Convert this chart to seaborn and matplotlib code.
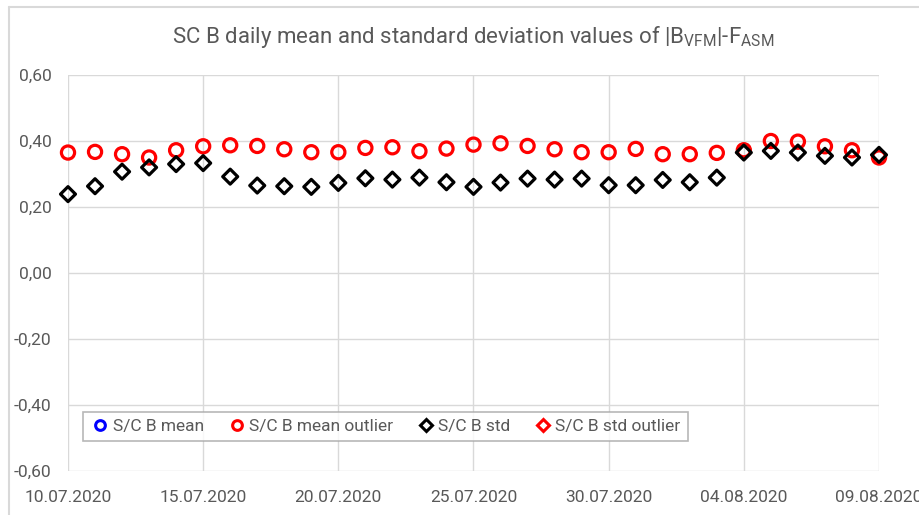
import matplotlib
matplotlib.use("Agg")
import matplotlib.pyplot as plt
import matplotlib.dates as mdates
from matplotlib.lines import Line2D
from matplotlib.ticker import FuncFormatter, FixedLocator
import seaborn as sns
import pandas as pd
import numpy as np

# ---- data ----
dates = pd.date_range("2020-07-10", "2020-08-09", freq="D")
mean_values = [0.365, 0.367, 0.360, 0.350, 0.372, 0.384, 0.387, 0.385, 0.375, 0.366,
               0.366, 0.379, 0.381, 0.369, 0.377, 0.389, 0.393, 0.385, 0.375, 0.366,
               0.366, 0.376, 0.360, 0.360, 0.364, 0.372, 0.400, 0.398, 0.384, 0.372,
               0.350]
mean_outlier = [True] * 31
std_values = [0.239, 0.263, 0.307, 0.320, 0.330, 0.333, 0.292, 0.265, 0.263, 0.261,
              0.273, 0.287, 0.283, 0.289, 0.275, 0.261, 0.274, 0.286, 0.283, 0.286,
              0.266, 0.266, 0.282, 0.275, 0.289, 0.365, 0.370, 0.365, 0.355, 0.350,
              0.358]
std_outlier = [False] * 31
series_labels = ["S/C B mean", "S/C B mean outlier", "S/C B std", "S/C B std outlier"]
x_tick_dates = ["2020-07-10", "2020-07-15", "2020-07-20", "2020-07-25",
                "2020-07-30", "2020-08-04", "2020-08-09"]
y_ticks = [-0.60, -0.40, -0.20, 0.00, 0.20, 0.40, 0.60]
title = r"SC B daily mean and standard deviation values of |B$_\mathregular{VFM}$|-F$_\mathregular{ASM}$"

df = pd.DataFrame({"date": dates, "mean": mean_values, "mean_out": mean_outlier,
                   "std": std_values, "std_out": std_outlier})

sns.set_theme(style="white")
FONT = ["Roboto", "DejaVu Sans"]
plt.rcParams["font.family"] = FONT
TXT = "#595959"
GRID = "#d9d9d9"

fig = plt.figure(figsize=(9.19, 5.15), dpi=100)
ax = fig.add_axes([68/919, 1-471/515, (879-68)/919, (471-75)/515])

lw = 2.3
styles = [
    (df[~df["mean_out"]], "mean", "o", "#0000ff"),
    (df[df["mean_out"]], "mean", "o", "#ff0000"),
    (df[~df["std_out"]], "std", "D", "#000000"),
    (df[df["std_out"]], "std", "D", "#ff0000"),
]
for i, (sub, col, mk, c) in enumerate(styles):
    if len(sub) == 0:
        continue
    sns.scatterplot(x=sub["date"], y=sub[col], marker=mk, s=90 if mk == "o" else 58,
                    facecolors="none", edgecolor=c, linewidth=lw, ax=ax,
                    clip_on=False, zorder=3 + i, legend=False)

ax.set_xlim(pd.Timestamp("2020-07-10"), pd.Timestamp("2020-08-09"))
ax.set_ylim(-0.6, 0.6)
ax.xaxis.set_major_locator(FixedLocator([mdates.date2num(pd.Timestamp(d)) for d in x_tick_dates]))
ax.xaxis.set_major_formatter(mdates.DateFormatter("%d.%m.%Y"))
ax.yaxis.set_major_locator(FixedLocator(y_ticks))
ax.yaxis.set_major_formatter(FuncFormatter(lambda v, p: f"{v:.2f}".replace(".", ",").replace("-0,00", "0,00")))
ax.set_xlabel("")
ax.set_ylabel("")
ax.grid(True, color=GRID, linewidth=1.0)
ax.set_axisbelow(True)
for s in ax.spines.values():
    s.set_visible(False)
ax.tick_params(axis="both", length=0, labelcolor=TXT, labelsize=12.5)
ax.tick_params(axis="x", pad=14)
ax.tick_params(axis="y", pad=12)

fig.text((68+879)/2/919, 1-37/515, title, ha="center", va="center",
         fontsize=16, color=TXT)

handles = [
    Line2D([], [], linestyle="", marker="o", markersize=7, markerfacecolor="none",
           markeredgecolor="#0000ff", markeredgewidth=2.2),
    Line2D([], [], linestyle="", marker="o", markersize=7, markerfacecolor="none",
           markeredgecolor="#ff0000", markeredgewidth=2.2),
    Line2D([], [], linestyle="", marker="D", markersize=6, markerfacecolor="none",
           markeredgecolor="#000000", markeredgewidth=2.2),
    Line2D([], [], linestyle="", marker="D", markersize=6, markerfacecolor="none",
           markeredgecolor="#ff0000", markeredgewidth=2.2),
]
leg = ax.legend(handles, series_labels, loc="lower left",
                bbox_to_anchor=(15/811, 30/396), ncol=4, frameon=True,
                fancybox=False, edgecolor="#a6a6a6", fontsize=12.5,
                handletextpad=0.1, columnspacing=1.3, borderpad=0.4,
                handlelength=1.2, borderaxespad=0)
for t in leg.get_texts():
    t.set_color(TXT)
leg.get_frame().set_linewidth(1.2)

# outer chart border
fig.add_artist(Line2D([9/919, 9/919], [0, 1-7/515], color=GRID, lw=1.5, transform=fig.transFigure))
fig.add_artist(Line2D([9/919, 1], [1-7/515, 1-7/515], color=GRID, lw=1.5, transform=fig.transFigure))

fig.savefig("out.png", dpi=100)
